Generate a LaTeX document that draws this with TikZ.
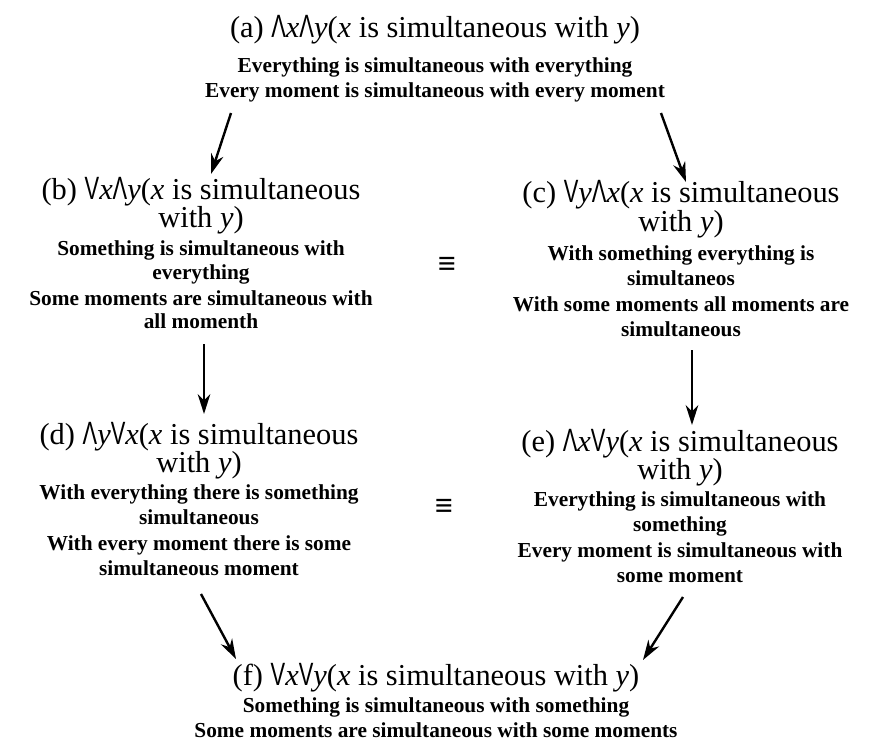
\documentclass[tikz,border=0pt]{standalone}
\usepackage{graphicx}
\usepackage{fontspec}
\setmainfont{Liberation Serif}
\newfontfamily\qfont{Liberation Sans}
\usetikzlibrary{arrows.meta}
% quantifier signs: tall narrow wedge (for all) and vee (there is)
\newcommand\qall{\scalebox{0.72}[1.06]{\qfont Λ}}
\newcommand\qsome{\scalebox{0.72}[1.06]{\qfont V}}
\tikzset{
  ttl/.style={anchor=base, inner sep=0pt, font=\fontsize{22.8}{26}\selectfont},
  sub/.style={anchor=base, inner sep=0pt, font=\fontsize{16}{19}\selectfont\bfseries},
  eqv/.style={inner sep=0pt, font=\fontsize{24}{26}\selectfont\bfseries},
  arr/.style={line width=1.8pt, -{Stealth[length=15pt,width=9.5pt]}}
}
\begin{document}
\begin{tikzpicture}[x=0.75pt,y=-0.75pt]
\useasboundingbox (0,0) rectangle (869,747);

% (a)
\node[ttl] (a)  at (435,37) {(a) \qall\textit{x}\qall\textit{y}(\textit{x} is simultaneous with \textit{y})};
\node[sub] (a2) at (435,72) {Everything is simultaneous with everything};
\node[sub] (a3) at (435,97) {Every moment is simultaneous with every moment};

% (b)
\node[ttl] (b)  at (201,199) {(b) \qsome\textit{x}\qall\textit{y}(\textit{x} is simultaneous};
\node[ttl] (b1) at (201,227) {with \textit{y})};
\node[sub] (b2) at (201,255) {Something is simultaneous with};
\node[sub] (b3) at (201,279) {everything};
\node[sub] (b4) at (201,305) {Some moments are simultaneous with};
\node[sub] (b5) at (201,328) {all momenth};

% (c)
\node[ttl] (c)  at (681,202) {(c) \qsome\textit{y}\qall\textit{x}(\textit{x} is simultaneous};
\node[ttl] (c1) at (681,231) {with \textit{y})};
\node[sub] (c2) at (681,260) {With something everything is};
\node[sub] (c3) at (681,285) {simultaneos};
\node[sub] (c4) at (681,311) {With some moments all moments are};
\node[sub] (c5) at (681,336) {simultaneous};

% (d)
\node[ttl] (d)  at (199,444) {(d) \qall\textit{y}\qsome\textit{x}(\textit{x} is simultaneous};
\node[ttl] (d1) at (199,472) {with \textit{y})};
\node[sub] (d2) at (199,499) {With everything there is something};
\node[sub] (d3) at (199,524) {simultaneous};
\node[sub] (d4) at (199,550) {With every moment there is some};
\node[sub] (d5) at (199,575) {simultaneous moment};

% (e)
\node[ttl] (e)  at (680,451) {(e) \qall\textit{x}\qsome\textit{y}(\textit{x} is simultaneous};
\node[ttl] (e1) at (680,479) {with \textit{y})};
\node[sub] (e2) at (680,506) {Everything is simultaneous with};
\node[sub] (e3) at (680,531) {something};
\node[sub] (e4) at (680,557) {Every moment is simultaneous with};
\node[sub] (e5) at (680,582) {some moment};

% (f)
\node[ttl] (f)  at (436,685) {(f) \qsome\textit{x}\qsome\textit{y}(\textit{x} is simultaneous with \textit{y})};
\node[sub] (f2) at (436,712) {Something is simultaneous with something};
\node[sub] (f3) at (436,737) {Some moments are simultaneous with some moments};

% equivalence signs between the middle pairs
\node[eqv] (eq1) at (447,266) {≡};
\node[eqv] (eq2) at (444,508) {≡};

% ends of the implication arrows
\coordinate (ab0) at (231,113); \coordinate (ab1) at (211,174);
\coordinate (ac0) at (661,113); \coordinate (ac1) at (686,182);
\coordinate (bd0) at (204,344); \coordinate (bd1) at (204,414);
\coordinate (ce0) at (692,350); \coordinate (ce1) at (692,425);
\coordinate (df0) at (201,594); \coordinate (df1) at (236,659);
\coordinate (ef0) at (683,597); \coordinate (ef1) at (643,660);

\draw[arr] (ab0) -- (ab1);
\draw[arr] (ac0) -- (ac1);
\draw[arr] (bd0) -- (bd1);
\draw[arr] (ce0) -- (ce1);
\draw[arr] (df0) -- (df1);
\draw[arr] (ef0) -- (ef1);
\end{tikzpicture}
\end{document}
